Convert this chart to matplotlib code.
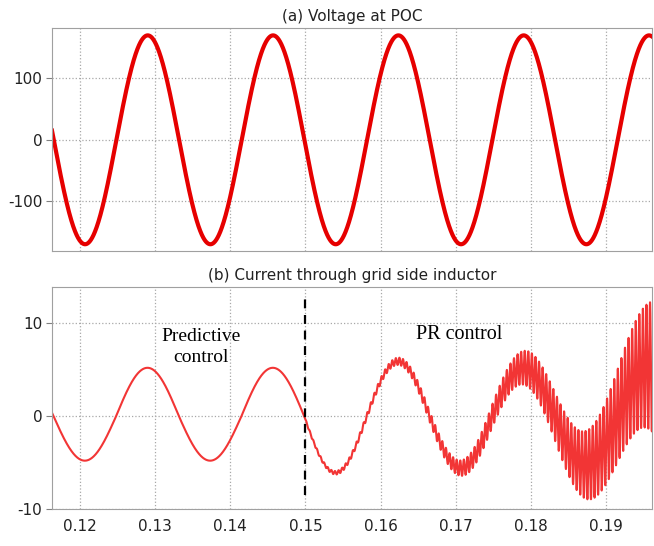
import matplotlib
matplotlib.use("Agg")
import matplotlib.pyplot as plt
import numpy as np

plt.rcParams["axes.unicode_minus"] = False

# ---- values ----
t_limits = (0.1163, 0.1961)
x_ticks = [0.12, 0.13, 0.14, 0.15, 0.16, 0.17, 0.18, 0.19]
x_tick_labels = ["0.12", "0.13", "0.14", "0.15", "0.16", "0.17", "0.18", "0.19"]

# (a) voltage at POC: 60 Hz grid, peak ~170 V, first trough at ~0.1207 s
grid_freq = 60.0
v_peak = 170.0
v_first_trough = 0.1207
v_ticks = [-100, 0, 100]
v_limits = (-181, 182)

# (b) grid current: peak of each half cycle, starting at the zero crossing 0.1165 s
i_first_zero = 0.1165
i_half_peaks = [-4.8, 5.2, -4.8, 5.2, -6.1, 5.9, -5.6, 5.2, -5.25, 5.4]
# switching ripple after the change to PR control (amplitude of the band)
switch_time = 0.150
ripple_freq = 2100.0
ripple_t = [0.150, 0.1543, 0.1625, 0.1709, 0.1795, 0.1876, 0.1961]
ripple_amp = [0.1, 0.2, 0.4, 0.85, 1.9, 3.75, 7.0]
i_ticks = [-10, 0, 10]
i_limits = (-10, 13.9)

# ---- build the traces ----
t = np.arange(t_limits[0], t_limits[1], 1e-6)
v = -v_peak * np.cos(2 * np.pi * grid_freq * (t - v_first_trough))

half = 1.0 / (2 * grid_freq)
k = np.clip(((t - i_first_zero) // half).astype(int), 0, len(i_half_peaks) - 1)
phase = (t - i_first_zero - k * half) / half
i_fund = np.array(i_half_peaks)[k] * np.sin(np.pi * phase)
env = np.exp(np.interp(t, ripple_t, np.log(ripple_amp)))
ripple = np.where(t >= switch_time,
                  env * np.sin(2 * np.pi * ripple_freq * (t - switch_time)), 0.0)
i_grid = i_fund + ripple

# ---- figure ----
fig = plt.figure(figsize=(6.54, 5.46), dpi=100)
ax1 = fig.add_axes([0.0795, 0.5403, 0.9175, 0.4084])
ax2 = fig.add_axes([0.0795, 0.0678, 0.9175, 0.4066])

ax1.plot(t, v, color="#e60000", lw=3.0)
ax1.set_ylim(*v_limits)
ax1.set_yticks(v_ticks)
ax1.set_title("(a) Voltage at POC", fontsize=11, pad=5, color="#222222")

ax2.plot(t, i_grid, color="#f23535", lw=1.5)
ax2.set_ylim(*i_limits)
ax2.set_yticks(i_ticks)
ax2.set_title("(b) Current through grid side inductor", fontsize=11, pad=5,
              color="#222222")
ax2.plot([switch_time, switch_time], [-8.5, 13.2], color="black", lw=1.6,
         ls=(0, (4, 3)))
ax2.text(0.1361, 7.4, "Predictive\ncontrol", family="Liberation Serif",
         fontsize=14, ha="center", va="center", linespacing=1.3)
ax2.text(0.1705, 8.8, "PR control", family="Liberation Serif",
         fontsize=14.5, ha="center", va="center")

for ax in (ax1, ax2):
    ax.set_xlim(*t_limits)
    ax.set_xticks(x_ticks)
    ax.grid(True, ls=":", color="#a8a8a8", lw=0.9)
    for s in ax.spines.values():
        s.set_color("#a0a0a0")
    ax.tick_params(axis="y", length=4, color="#808080", labelsize=11,
                   labelcolor="#222222", pad=3)
    ax.tick_params(axis="x", length=0, labelsize=11, labelcolor="#222222", pad=7)

ax1.set_xticklabels([])
ax2.set_xticklabels(x_tick_labels)

plt.savefig("out.png", dpi=100)
plt.close()
